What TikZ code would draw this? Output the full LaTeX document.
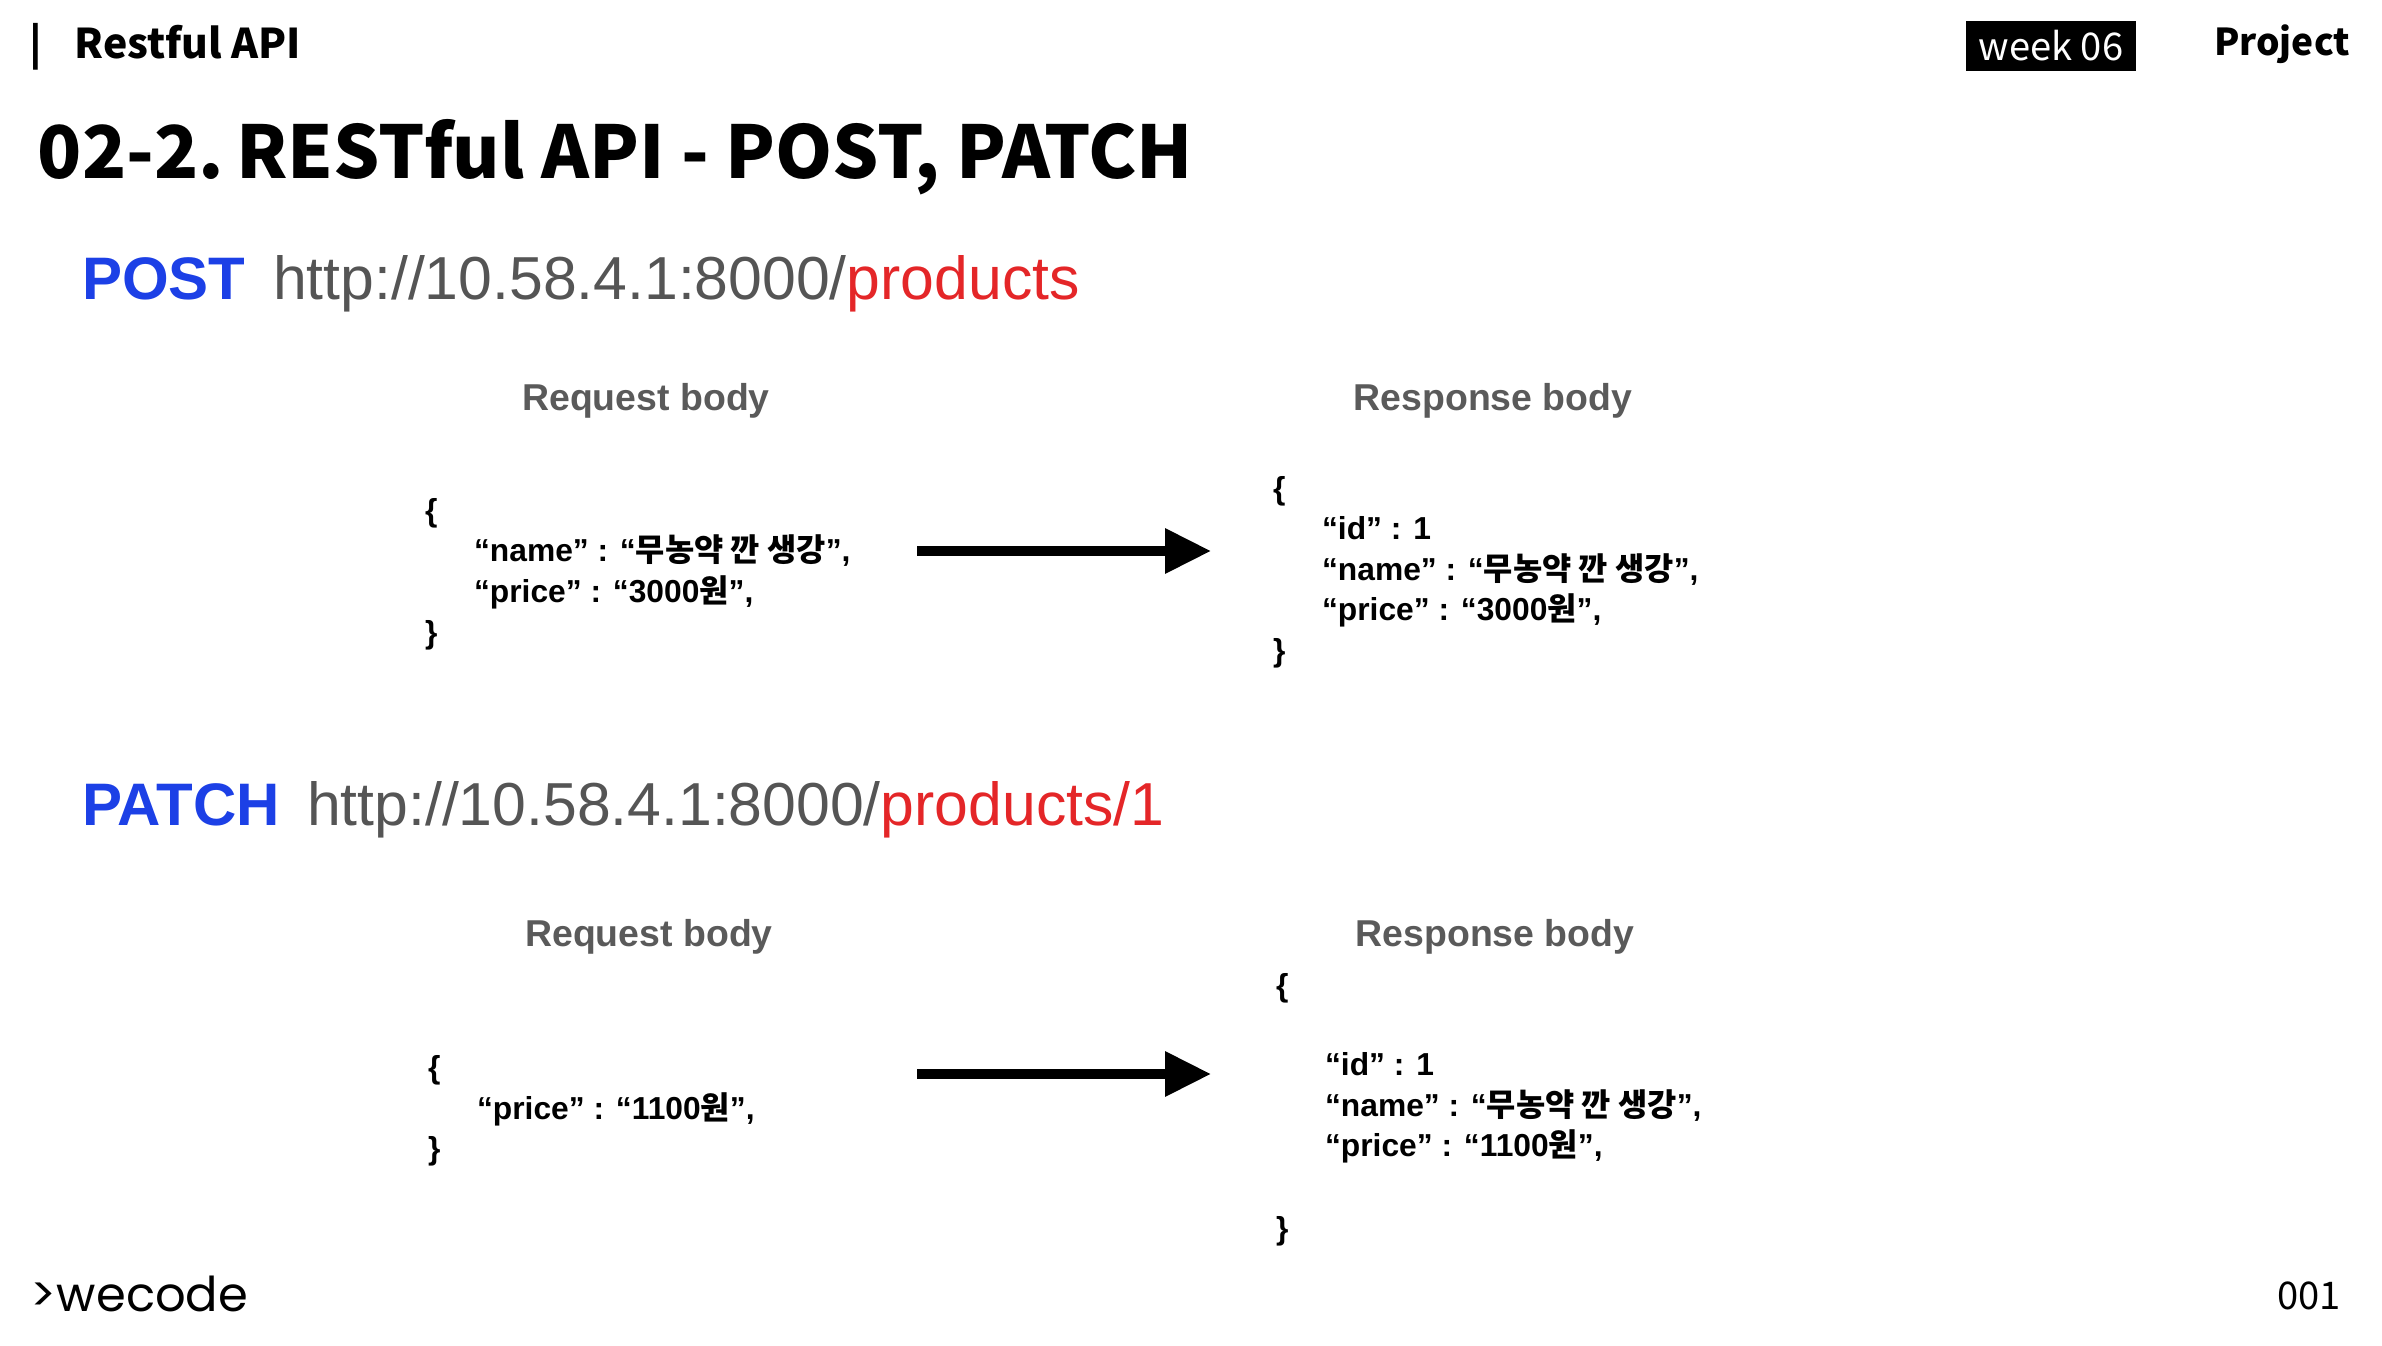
\documentclass[tikz,border=0pt]{standalone}
\usepackage{fontspec}
\setmainfont{Liberation Sans}
\newfontfamily\kr{Noto Sans CJK KR}
\newfontfamily\wcfont{Poppins}
\usetikzlibrary{arrows.meta}
\definecolor{methodblue}{RGB}{28,64,230}
\definecolor{pathred}{RGB}{228,38,40}
\definecolor{urlgray}{RGB}{85,85,85}
\definecolor{headgray}{RGB}{90,90,90}
\newcommand{\han}[1]{{\kr #1}}
\newcommand{\ind}{\hspace*{13.9pt}}

\begin{document}
\begin{tikzpicture}[x=0.2833pt, y=-0.2833pt,
  every node/.style={inner sep=0pt, outer sep=0pt},
  method/.style={font=\fontsize{17}{21}\selectfont\bfseries, text=methodblue, anchor=base west},
  url/.style={font=\fontsize{17.2}{21}\selectfont, text=urlgray, anchor=base west},
  bodyhead/.style={font=\fontsize{10.6}{13}\selectfont\bfseries, text=headgray},
  json/.style={font=\fontsize{9}{11.5}\selectfont\bfseries, align=left, anchor=west},
  flow/.style={-{Triangle[length=13pt,width=12.2pt]}, line width=2.6pt}
]
\useasboundingbox (0,0) rectangle (2382,1346);

% slide header and footer
\node[font=\kr\bfseries\fontsize{11.6}{14}\selectfont, anchor=base west] (topic) at (30,59) {|\hspace{9pt}Restful API};
\node[fill=black, minimum width=48.4pt, minimum height=13.9pt] (week) at (2051,46) {};
\node[font=\kr\fontsize{10.8}{14}\selectfont, text=white] at (week) {week 06};
\node[font=\kr\bfseries\fontsize{10.5}{14}\selectfont] (proj) at (2282,44) {Project};
\node[font=\kr\bfseries\fontsize{20.6}{26}\selectfont, anchor=base west] (title) at (38,178) {02-2.\,RESTful API - POST, PATCH};
\node[font=\wcfont\fontsize{13.6}{16}\selectfont, anchor=west] (logo) at (31,1294) {>wecode};
\node[font=\kr\fontsize{10.8}{13}\selectfont, anchor=east] (page) at (2341,1296) {001};

% POST
\node[method] (post) at (82,299) {POST};
\node[url] (posturl) at (273,299) {http://10.58.4.1:8000/\textcolor{pathred}{products}};
\node[bodyhead] (req1h) at (646,401) {Request body};
\node[bodyhead] (res1h) at (1493,401) {Response body};
\node[json] (req1) at (425,574) {\{\\
\ind“name” : “\han{무농약 깐 생강}”,\\
\ind“price” : “3000\han{원}”,\\
\}};
\node[json] (res1) at (1273,572) {\{\\
\ind“id” : 1\\
\ind“name” : “\han{무농약 깐 생강}”,\\
\ind“price” : “3000\han{원}”,\\
\}};
\coordinate (a1s) at (917,551);
\coordinate (a1e) at (1211,551);
\draw[flow] (a1s) -- (a1e);

% PATCH
\node[method] (patch) at (82,825) {PATCH};
\node[url] (patchurl) at (307,825) {http://10.58.4.1:8000/\textcolor{pathred}{products/1}};
\node[bodyhead] (req2h) at (649,937) {Request body};
\node[bodyhead] (res2h) at (1495,937) {Response body};
\node[json] (req2) at (428,1111) {\{\\
\ind“price” : “1100\han{원}”,\\
\}};
\node[json] (res2) at (1276,1110) {\{\\[10.8pt]
\ind“id” : 1\\
\ind“name” : “\han{무농약 깐 생강}”,\\
\ind“price” : “1100\han{원}”,\\[11.9pt]
\}};
\coordinate (a2s) at (917,1074);
\coordinate (a2e) at (1211,1074);
\draw[flow] (a2s) -- (a2e);
\end{tikzpicture}
\end{document}
